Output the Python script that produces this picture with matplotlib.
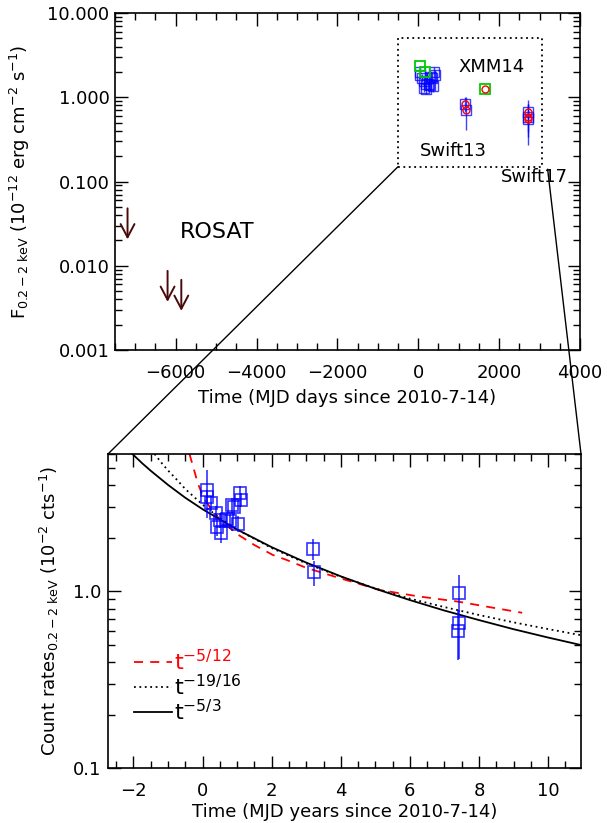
import numpy as np
import matplotlib
matplotlib.use('Agg')
import matplotlib.pyplot as plt
from matplotlib.patches import Rectangle, ConnectionPatch
from matplotlib.ticker import MultipleLocator, FixedLocator, NullFormatter

plt.rcParams['font.family'] = ['DejaVu Sans']
plt.rcParams['mathtext.default'] = 'regular'

# ---- top panel: flux (1e-12 erg/cm2/s) vs days since 2010-7-14
rosat_day = [-7190, -6200, -5860]
rosat_lim = [0.048, 0.0087, 0.0068]

swift_day = [44, 47, 91, 139, 150, 186, 197, 256, 292, 314, 336, 373, 398, 402,
             1165, 1172, 2707, 2714, 2703]
swift_flux = [2.0, 1.85, 1.70, 1.55, 1.30, 1.42, 1.25, 1.45, 1.40, 1.75, 1.70, 1.35, 2.0, 1.85,
              0.83, 0.71, 0.66, 0.59, 0.55]
swift_ferr = [0.3, 0.2, 0.2, 0.2, 0.15, 0.2, 0.15, 0.2, 0.2, 0.25, 0.25, 0.2, 0.3, 0.25,
              0.17, 0.30, 0.27, 0.25, 0.28]

xmm_day = [32, 156, 1640]
xmm_flux = [2.35, 1.98, 1.24]

red_day = [1165, 1172, 1640, 2707, 2714, 2703]
red_flux = [0.83, 0.71, 1.24, 0.66, 0.59, 0.55]

# ---- bottom panel: count rates (1e-2 cts/s) vs years
rate_t = [0.12, 0.13, 0.25, 0.38, 0.41, 0.51, 0.54, 0.70, 0.80, 0.86, 0.92, 1.02, 1.09, 1.10,
          3.19, 3.21, 7.41, 7.43, 7.40]
rate = [3.75, 3.44, 3.15, 2.79, 2.31, 2.54, 2.13, 2.56, 2.51, 3.09, 3.02, 2.41, 3.59, 3.30,
        1.74, 1.28, 0.98, 0.665, 0.60]
rate_lo = [1.15, 0.3, 0.3, 0.25, 0.25, 0.25, 0.25, 0.25, 0.25, 0.3, 0.3, 0.25, 0.35, 0.3,
           0.24, 0.20, 0.22, 0.25, 0.19]
rate_hi = [1.10, 0.3, 0.3, 0.25, 0.25, 0.25, 0.25, 0.25, 0.25, 0.3, 0.3, 0.25, 0.35, 0.3,
           0.24, 0.20, 0.26, 0.12, 0.18]

# model curves
m53_t = [-2.03, -1.75, -1.5, -1.0, -0.5, 0.0, 1.0, 2.0, 3.0, 4.0, 5.0, 6.0, 7.0, 8.0, 9.0, 10.0, 10.95]
m53_f = [6.0, 5.32, 4.82, 4.01, 3.39, 2.92, 2.24, 1.78, 1.456, 1.217, 1.035, 0.893, 0.779, 0.688,
         0.611, 0.548, 0.497]
m1916_t = [-1.39, -1.2, -1.0, -0.75, -0.5, 0.0, 0.5, 1.0, 2.0, 3.0, 4.0, 5.0, 6.0, 7.0, 8.0, 9.0,
           10.0, 10.95]
m1916_f = [6.0, 5.38, 4.84, 4.30, 3.80, 3.10, 2.60, 2.24, 1.76, 1.44, 1.21, 1.04, 0.91, 0.815,
           0.735, 0.668, 0.612, 0.565]
m512_t = [-0.38, -0.25, -0.14, 0.0, 0.2, 0.5, 0.97, 1.5, 2.03, 2.42, 3.0, 3.96, 5.12, 6.2, 7.4, 8.3, 9.25]
m512_f = [6.0, 4.9, 4.1, 3.5, 3.02, 2.55, 2.13, 1.83, 1.61, 1.51, 1.36, 1.19, 1.02, 0.94, 0.875, 0.815, 0.757]

W, H = 607, 823
fig = plt.figure(figsize=(W / 100, H / 100), dpi=100)
ax1 = fig.add_axes([115 / W, 1 - 350 / H, 465 / W, 337 / H])
ax2 = fig.add_axes([108 / W, 1 - 768 / H, 473 / W, 314 / H])

fs = 13

def idl_axes(ax):
    ax.tick_params(which='both', direction='in', top=True, right=True, labelsize=fs, width=1)
    ax.tick_params(which='major', length=9)
    ax.tick_params(which='minor', length=5)
    for s in ax.spines.values():
        s.set_linewidth(1.2)

# ---------------- top panel
ax1.set_yscale('log')
ax1.set_xlim(-7500, 4000)
ax1.set_ylim(0.001, 10)
idl_axes(ax1)
ax1.tick_params(axis='x', pad=10)
ax1.tick_params(axis='y', pad=4)
ax1.xaxis.set_major_locator(MultipleLocator(2000))
ax1.xaxis.set_minor_locator(MultipleLocator(500))
ax1.yaxis.set_major_locator(FixedLocator([0.001, 0.01, 0.1, 1, 10]))
ax1.set_yticklabels(['0.001', '0.010', '0.100', '1.000', '10.000'])
ax1.set_xlabel('Time (MJD days since 2010-7-14)', fontsize=fs, labelpad=5)
ax1.set_ylabel(r'F$_{0.2-2\ keV}$ (10$^{-12}$ erg cm$^{-2}$ s$^{-1}$)', fontsize=fs)
ax1.yaxis.set_label_coords(-0.178, 0.5)

# ROSAT upper limits: arrows hang 31 px below the limit
for d, f in zip(rosat_day, rosat_lim):
    px, py = ax1.transData.transform((d, f))
    tip = ax1.transData.inverted().transform((px, py - 31))
    ax1.annotate('', xy=tip, xycoords='data', xytext=(d, f), textcoords='data',
                 arrowprops=dict(arrowstyle='->,head_length=0.95,head_width=0.5',
                                 color='#4a0a0a', lw=1.4, shrinkA=0, shrinkB=0))

ax1.errorbar(swift_day, swift_flux, yerr=swift_ferr, fmt='s', ms=7, mfc='none',
             mec='blue', ecolor='blue', mew=1.0, elinewidth=1.0, alpha=0.75, zorder=3)
ax1.plot(xmm_day, xmm_flux, 's', ms=7, mfc='none', mec='#00cc00', mew=1.3, zorder=4)
ax1.plot(red_day, red_flux, 'o', ms=5, mfc='none', mec='red', mew=1.0, zorder=5)

ax1.add_patch(Rectangle((-500, 0.15), 3550, 4.85, fill=False, ls=(0, (1, 2)), lw=1.3, ec='black'))
ax1.text(-4980, 0.0252, 'ROSAT', fontsize=16, ha='center', va='center')
ax1.text(1805, 2.29, 'XMM14', fontsize=fs, ha='center', va='center')
ax1.text(860, 0.23, 'Swift13', fontsize=fs, ha='center', va='center')
ax1.text(2870, 0.113, 'Swift17', fontsize=fs, ha='center', va='center')

# ---------------- bottom panel
ax2.set_yscale('log')
ax2.set_xlim(-1000 / 365.25, 4000 / 365.25)
ax2.set_ylim(0.1, 6)
idl_axes(ax2)
ax2.tick_params(axis='x', pad=10)
ax2.tick_params(axis='y', pad=5)
ax2.xaxis.set_major_locator(MultipleLocator(2))
ax2.xaxis.set_minor_locator(MultipleLocator(0.5))
ax2.yaxis.set_major_locator(FixedLocator([0.1, 1.0]))
ax2.set_yticklabels(['0.1', '1.0'])
ax2.yaxis.set_minor_formatter(NullFormatter())
ax2.set_xlabel('Time (MJD years since 2010-7-14)', fontsize=fs, labelpad=2)
ax2.set_ylabel(r'Count rates$_{0.2-2\ keV}$ (10$^{-2}$ cts$^{-1}$)', fontsize=fs)
ax2.yaxis.set_label_coords(-0.10, 0.5)

ax2.plot(m512_t, m512_f, color='red', ls=(0, (5, 4)), lw=1.3, label=r't$^{-5/12}$')
ax2.plot(m1916_t, m1916_f, color='black', ls=(0, (1, 2)), lw=1.3, label=r't$^{-19/16}$')
ax2.plot(m53_t, m53_f, color='black', ls='-', lw=1.3, label=r't$^{-5/3}$')
ax2.errorbar(rate_t, rate, yerr=[rate_lo, rate_hi], fmt='s', ms=8, mfc='none',
             mec='blue', ecolor='blue', mew=1.2, elinewidth=1.2, alpha=0.8, zorder=4)

leg = ax2.legend(loc='lower left', bbox_to_anchor=(0.0125, 0.076), frameon=False, fontsize=16,
                 handlelength=1.7, handletextpad=0.1, labelspacing=0.0, labelcolor='linecolor')

# zoom connector lines
for xa, xb in [((-500, 0.15), (0, 1)), ((3200, 0.14), (1, 1))]:
    con = ConnectionPatch(xyA=xa, coordsA=ax1.transData, xyB=xb, coordsB=ax2.transAxes,
                          color='black', lw=1.0)
    fig.add_artist(con)

fig.savefig('out.png', dpi=100)
